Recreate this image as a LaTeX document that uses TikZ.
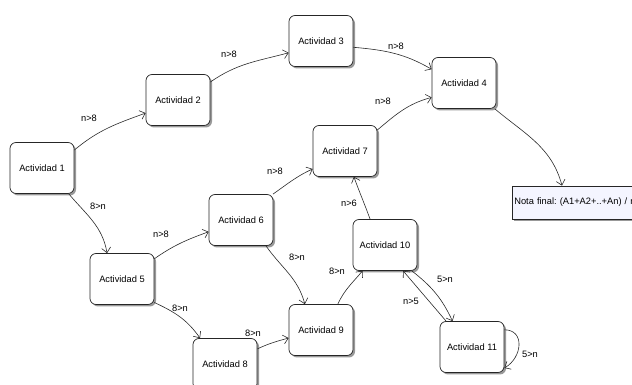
\documentclass[tikz,border=0pt]{standalone}
\usepackage{fontspec}
\setmainfont{Liberation Sans}
\usetikzlibrary{arrows.meta,shadows,calc}
\definecolor{edgecol}{HTML}{2A2A2A}
\definecolor{notafill}{HTML}{F4F5FF}
\frenchspacing
\tikzset{
  act/.style={draw=black!85, line width=0.7pt, fill=white, rounded corners=6pt,
    minimum width=64pt, minimum height=51pt, inner sep=0pt, font=\fontsize{9.3}{10}\selectfont,
    drop shadow={shadow xshift=2pt, shadow yshift=-2pt, fill=black!40, opacity=1}},
  nota/.style={draw=black!85, line width=0.7pt, fill=notafill, anchor=west,
    minimum width=160pt, minimum height=33pt, inner sep=1pt, text width=156pt, align=left,
    font=\fontsize{9.3}{10}\selectfont,
    drop shadow={shadow xshift=2pt, shadow yshift=-2pt, fill=black!40, opacity=1}},
  arr/.style={draw=edgecol, line width=0.6pt, -{Straight Barb[length=5pt,width=9pt]}},
  lbl/.style={font=\fontsize{9.3}{10}\selectfont, inner sep=0pt}
}
\begin{document}
\begin{tikzpicture}[x=1pt,y=1pt]
\useasboundingbox (0,0) rectangle (632,385);
\clip (0,0) rectangle (632,385);
\node[act] (a1) at (42,217) {Actividad 1};
\node[act] (a2) at (178,285) {Actividad 2};
\node[act] (a3) at (321,344) {Actividad 3};
\node[act] (a4) at (464,302) {Actividad 4};
\node[act] (a7) at (345,234) {Actividad 7};
\node[act] (a5) at (122,106) {Actividad 5};
\node[act] (a6) at (241,165) {Actividad 6};
\node[act] (a8) at (225,21) {Actividad 8};
\node[act] (a9) at (321,55) {Actividad 9};
\node[act] (a10) at (385,140) {Actividad 10};
\node[act] (a11) at (472,38) {Actividad 11};
\node[nota] (nota) at (512,182.5) {Nota final: (A1+A2+..+An) / n};
\coordinate (notain) at ($(nota.north west)+(50,0)$);

\draw[arr] (a1.29) to[out=40,in=200] (a2.202) node[lbl] at (89,267) {n>8};
\draw[arr] (a2.29) to[out=35,in=195] (a3.200) node[lbl] at (229,331) {n>8};
\draw[arr] (a3.349) to[out=-5,in=150] (a4.157) node[lbl] at (396,339) {n>8};
\draw[arr] (a7.33) to[out=40,in=195] (a4.204) node[lbl] at (383,284) {n>8};
\draw[arr] (a4.320) to[out=-40,in=105] (notain);
\draw[arr] (a1.316) to[out=-50,in=100] (a5.120) node[lbl] at (98,179) {8>n};
\draw[arr] (a5.32) to[out=35,in=200] (a6.200) node[lbl] at (161,151) {n>8};
\draw[arr] (a5.324) to[out=-25,in=125] (a8.134) node[lbl] at (180,77) {8>n};
\draw[arr] (a6.39) to[out=35,in=205] (a7.209) node[lbl] at (275,214) {n>8};
\draw[arr] (a6.314) to[out=-55,in=105] (a9.122) node[lbl] at (297,128) {8>n};
\draw[arr] (a8.25) to[out=25,in=195] (a9.194) node[lbl] at (253,52) {8>n};
\draw[arr] (a9.57) to[out=65,in=230] (a10.229) node[lbl] at (337,114) {8>n};
\draw[arr] (a10.120) to[out=110,in=-70] (a7.289) node[lbl] at (349,182) {n>6};
\draw[arr] (a10.316) to[out=-38,in=115] (a11.127) node[lbl] at (445,106) {5>n};
\draw[arr] (a11.135) -- (a10.305) node[lbl] at (411,84) {n>5};
\draw[arr] (a11.28) to[out=0,in=30,looseness=1.4] (a11.327) node[lbl] at (530,31) {5>n};
\end{tikzpicture}
\end{document}
